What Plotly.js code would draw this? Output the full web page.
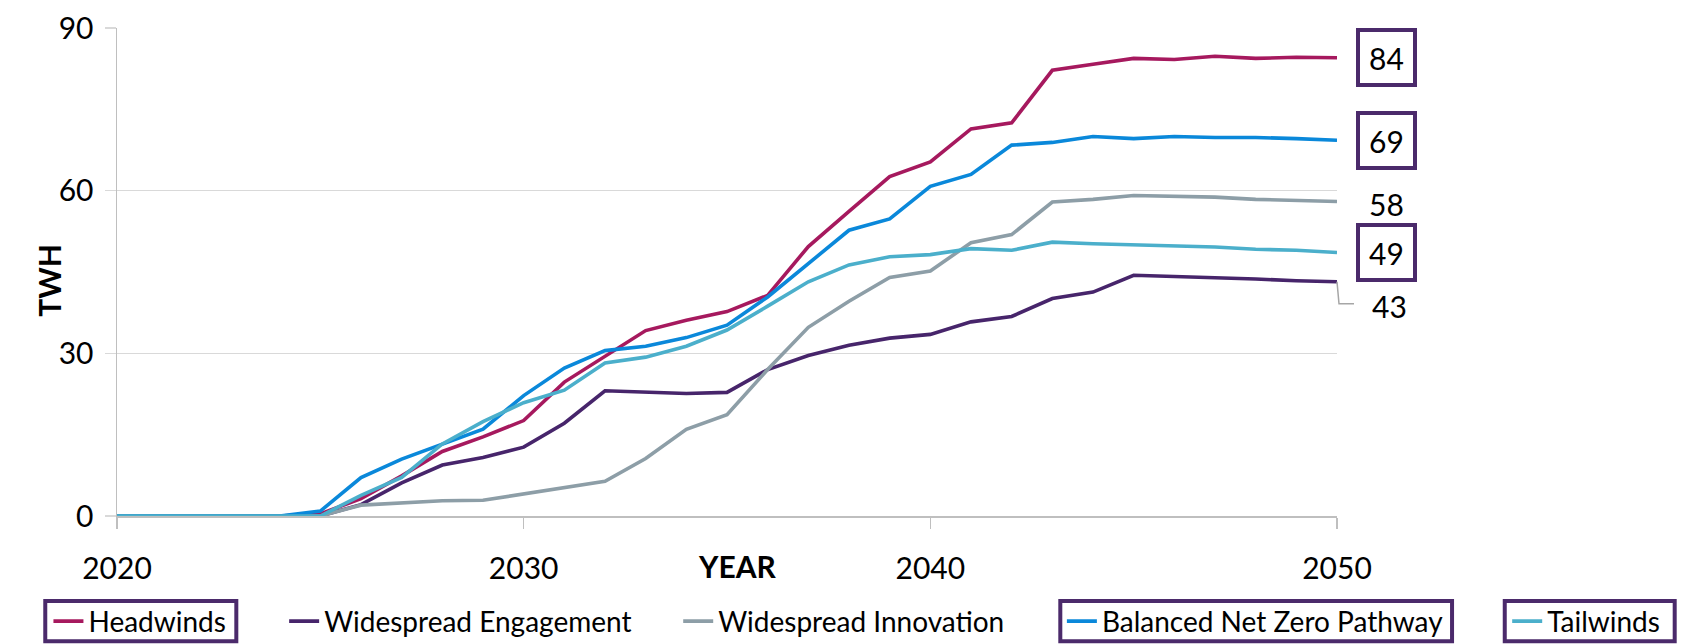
<!DOCTYPE html>
<html><head><meta charset="utf-8">
<script src="https://cdn.plot.ly/plotly-3.0.1.min.js"></script>
<style>html,body{margin:0;padding:0;background:#fff}#chart{width:1695px;height:644px}</style>
</head><body><div id="chart"></div>
<script>
const years = [2020,2021,2022,2023,2024,2025,2026,2027,2028,2029,2030,2031,2032,2033,2034,2035,2036,2037,2038,2039,2040,2041,2042,2043,2044,2045,2046,2047,2048,2049,2050];
const headwinds  = [0,0,0,0,0,0.4,3.2,7.4,11.9,14.6,17.6,24.7,29.5,34.2,36.1,37.7,40.7,49.7,56.2,62.6,65.3,71.4,72.5,82.2,83.3,84.4,84.2,84.8,84.4,84.6,84.5];
const engagement = [0,0,0,0,0,0,2.1,6.1,9.4,10.8,12.7,17.1,23.1,22.9,22.6,22.8,27.0,29.6,31.5,32.8,33.5,35.8,36.8,40.1,41.3,44.4,44.2,44.0,43.7,43.4,43.2];
const innovation = [0,0,0,0,0,0,2.0,2.4,2.8,2.9,4.1,5.3,6.4,10.6,16.0,18.7,27.0,34.8,39.6,44.0,45.2,50.4,51.9,57.9,58.4,59.1,58.9,58.8,58.4,58.2,58.0];
const balanced   = [0,0,0,0,0,0.9,7.1,10.5,13.3,16.0,22.2,27.3,30.5,31.3,32.9,35.2,40.4,46.6,52.7,54.8,60.8,63.0,68.4,68.9,70.0,69.6,70.0,69.8,69.8,69.6,69.3];
const tailwinds  = [0,0,0,0,0,0,3.8,7.1,13.3,17.4,20.9,23.2,28.2,29.3,31.3,34.3,38.7,43.2,46.3,47.8,48.2,49.3,49.0,50.5,50.2,50.0,49.8,49.6,49.2,49.0,48.6];

const seriesNames = ['Headwinds','Widespread Engagement','Widespread Innovation','Balanced Net Zero Pathway','Tailwinds'];
const seriesData = [headwinds, engagement, innovation, balanced, tailwinds];
const endLabels = ['84','69','58','49','43'];
const endLabelOrder = [0,3,2,4,1]; // series index for each end label
const yTicks = [0,30,60,90];
const xTicks = [2020,2030,2040,2050];
const yRange = [0,90];
const xRange = [2020,2050];

const colors = ['#A6195E','#47256B','#8D9EA7','#0A88DA','#4BAFCB'];
const purple = '#4B2A6B';
const FONT = 'Lato, "Open Sans", sans-serif';

const legendIds = ['legend','legend2','legend3','legend4','legend5'];
const traces = seriesData.map((d,i)=>({
  x: years, y: d, type:'scatter', mode:'lines', name: seriesNames[i],
  line:{color:colors[i], width:3.6}, legend: legendIds[i], hoverinfo:'skip'
}));

const legendX = [-0.0562, 0.137, 0.460, 0.7745, 1.1395];
// boxes drawn around some legend entries: [x0, x1] in paper units
const legendBoxes = [[-0.0588, 0.0978], [0.7732, 1.0943], [1.1375, 1.2768]];
const layout = {
  width:1695, height:644,
  margin:{l:117, r:358, t:28, b:128, autoexpand:false},
  paper_bgcolor:'#fff', plot_bgcolor:'#fff',
  font:{family:FONT, size:28, color:'#000'},
  showlegend:true,
  xaxis:{
    range:xRange, tickvals:xTicks, ticktext:xTicks.map(String),
    showgrid:false, zeroline:false, showline:true, linecolor:'#BFBFBF', linewidth:1.5,
    ticks:'outside', ticklen:11, tickcolor:'#BFBFBF', tickwidth:1.5,
    ticklabelstandoff:14, tickfont:{size:30, family:FONT}
  },
  yaxis:{
    range:yRange, tickvals:yTicks, ticktext:yTicks.map(String),
    showgrid:true, gridcolor:'#D9D9D9', gridwidth:1.5, zeroline:false,
    showline:true, linecolor:'#BFBFBF', linewidth:1.5,
    ticks:'outside', ticklen:11, tickcolor:'#D9D9D9', tickwidth:1.5,
    ticklabelstandoff:5, tickfont:{size:30, family:FONT}
  },
  annotations:[
    {text:'<b>TWH</b>', xref:'paper', yref:'paper', x:-0.0558, y:0.484, textangle:-90,
     showarrow:false, xanchor:'center', yanchor:'middle', font:{size:30, family:FONT}},
    {text:'<b>YEAR</b>', xref:'paper', yref:'paper', x:0.509, y:-0.103,
     showarrow:false, xanchor:'center', yanchor:'middle', font:{size:30, family:FONT}}
  ],
  shapes:[]
};
legendIds.forEach((id,i)=>{
  layout[id] = {
    orientation:'h', x:legendX[i], xanchor:'left', y:-0.216, yanchor:'middle',
    bgcolor:'rgba(0,0,0,0)', borderwidth:0, font:{size:28, family:FONT, color:'#000'},
    itemwidth:30, traceorder:'normal'
  };
});
legendBoxes.forEach(b=>{
  layout.shapes.push({type:'rect', xref:'paper', yref:'paper', x0:b[0], x1:b[1], y0:-0.2568, y1:-0.1742,
    line:{color:purple, width:4}, fillcolor:'rgba(0,0,0,0)'});
});

endLabelOrder.forEach((si,k)=>{
  const d = seriesData[si];
  const last = d[d.length-1];
  const boxed = (k!==2 && k!==4);
  const ann = {
    text: endLabels[k], x: years[years.length-1], y: last, xref:'x', yref:'y',
    showarrow:false, xanchor:'center', yanchor:'middle', xshift:49,
    font:{size:30, family:FONT, color:'#000'}
  };
  if (boxed) { Object.assign(ann,{bordercolor:purple, borderwidth:4, borderpad:1, width:51, height:49}); }
  if (k===2) { ann.yshift = -2; }
  if (k===4) { ann.yshift = -24; ann.xshift = 52; }
  layout.annotations.push(ann);
});
// leader line for the "43" label (drawn outside the plot area, so referenced to paper / y-domain)
const lastEng = engagement[engagement.length-1];
layout.shapes.push({
  type:'path', xref:'paper', yref:'y domain', xsizemode:'pixel', ysizemode:'pixel',
  xanchor: 1, yanchor: (lastEng - yRange[0])/(yRange[1]-yRange[0]),
  path:'M 0 0 L 2 -22 L 17 -22', line:{color:'#A6A6A6', width:1.5}
});

Plotly.newPlot('chart', traces, layout, {displayModeBar:false, staticPlot:true});
</script></body></html>
